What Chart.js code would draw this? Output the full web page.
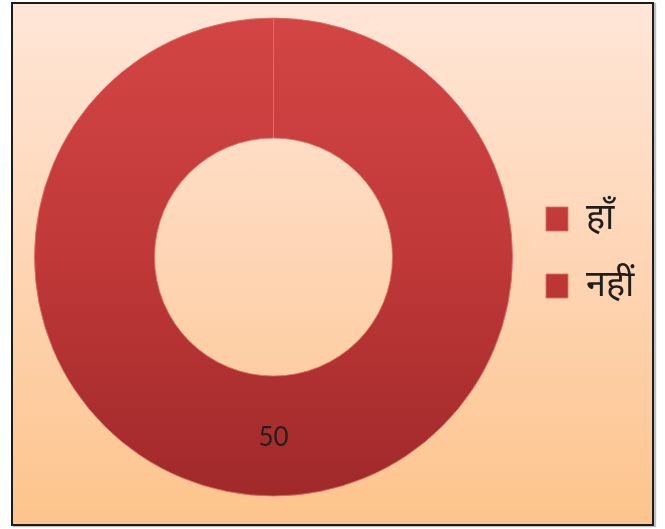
<!DOCTYPE html>
<html>
<head>
<meta charset="utf-8">
<script src="https://cdn.jsdelivr.net/npm/chart.js@4/dist/chart.umd.min.js"></script>
<style>
  html, body { margin: 0; padding: 0; background: #ffffff; width: 665px; height: 529px; overflow: hidden; }
  #frame {
    position: absolute; left: 11px; top: 2px; width: 643px; height: 524px;
    box-sizing: border-box; border: 2px solid #1c1c1c;
    background: linear-gradient(to bottom, #fee6d7 0%, #fed5b4 50%, #fdc48c 100%);
    box-shadow: 2px 1px 1px rgba(0,0,0,0.25);
  }
  #c { position: absolute; left: 0; top: 0; }
</style>
</head>
<body>
<div id="frame"></div>
<canvas id="c" width="665" height="529"></canvas>
<script>
const categories = ['हाँ', 'नहीं'];
const values = [50, 0];
const valueLabels = ['50', ''];

function ringFill(context) {
  const chart = context.chart;
  const a = chart.chartArea;
  if (!a) return '#c23a3a';
  const g = chart.ctx.createLinearGradient(0, a.top, 0, a.bottom);
  g.addColorStop(0, '#d34545');
  g.addColorStop(0.5, '#c03838');
  g.addColorStop(1, '#a0292a');
  return g;
}

const valueLabelPlugin = {
  id: 'valueLabel',
  afterDatasetsDraw(chart) {
    const meta = chart.getDatasetMeta(0);
    const ctx = chart.ctx;
    ctx.save();
    ctx.font = '26px Lato, "Open Sans", sans-serif';
    ctx.fillStyle = '#231f1f';
    ctx.textAlign = 'center';
    ctx.textBaseline = 'middle';
    meta.data.forEach((arc, i) => {
      if (values[i] > 0) {
        const p = arc.tooltipPosition();
        ctx.fillText(valueLabels[i], p.x, p.y + 2);
      }
    });
    ctx.restore();
  }
};

new Chart(document.getElementById('c'), {
  type: 'doughnut',
  data: {
    labels: categories,
    datasets: [{
      data: values,
      backgroundColor: ringFill,
      borderColor: 'rgba(222,110,100,0.85)',
      borderWidth: 1,
      radius: 239,
      cutout: '49.8%'
    }]
  },
  options: {
    responsive: false,
    animation: false,
    devicePixelRatio: 1,
    layout: { padding: { left: 32, right: 30, top: 9, bottom: 33 } },
    plugins: {
      title: { display: true, text: '', padding: { top: 9, bottom: 0 }, font: { size: 1, lineHeight: 0 } },
      tooltip: { enabled: false },
      legend: {
        position: 'right',
        maxWidth: 120,
        labels: {
          boxWidth: 22,
          boxHeight: 24,
          padding: 31,
          color: '#1e1e1e',
          font: { size: 36, family: "'Noto Sans', 'Noto Sans Devanagari', 'Lohit Devanagari', sans-serif" }
        }
      }
    }
  },
  plugins: [valueLabelPlugin]
});
</script>
</body>
</html>
